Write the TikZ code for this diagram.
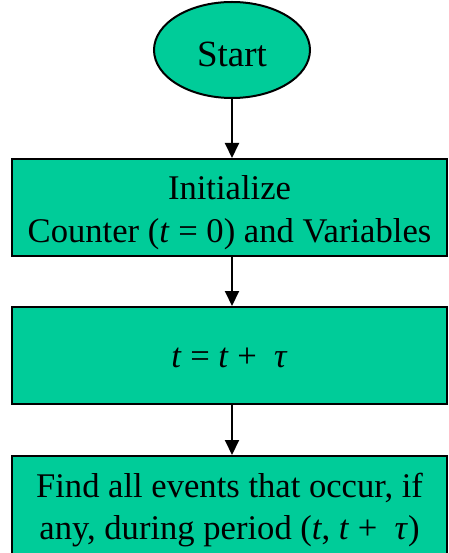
\documentclass[tikz,border=0pt]{standalone}
\usepackage{fontspec}
\setmainfont{Liberation Serif}
\usetikzlibrary{arrows.meta,shapes.geometric}
\definecolor{flowgreen}{HTML}{00CC99}
\tikzset{box/.style={draw,fill=flowgreen,line width=2pt,align=center,inner sep=0pt,minimum width=435pt,font=\fontsize{34.6}{42.5}\selectfont},
oval/.style={box,ellipse,minimum width=156pt,minimum height=96pt,font=\fontsize{37}{44}\selectfont},
arr/.style={-{Triangle[length=15pt,width=14pt]},line width=2pt}}

\begin{document}
\begin{tikzpicture}[x=1pt,y=-1pt]
\clip(0,0)rectangle(448,553);
\node[oval,text height=34pt,text depth=0pt](start)at(232,50){Start};
\node[box,minimum height=97pt,text height=77pt,text depth=8pt](init)at(229.5,207.5){Initialize\\Counter (\textit{t} = 0) and Variables};
\node[box,minimum height=97pt,text height=23pt,text depth=0pt](update)at(229.5,355.5){\textit{t} = \textit{t} + \ \textit{τ}};
\node[box,minimum height=108pt](find)at(229.5,510){Find all events that occur, if\\any, during period (\textit{t}, \textit{t} + \ \textit{τ})};
\foreach\a/\b in{start/init,init/update,update/find}\draw[arr](\a.south-|start)--(\b.north-|start);
\end{tikzpicture}
\end{document}
